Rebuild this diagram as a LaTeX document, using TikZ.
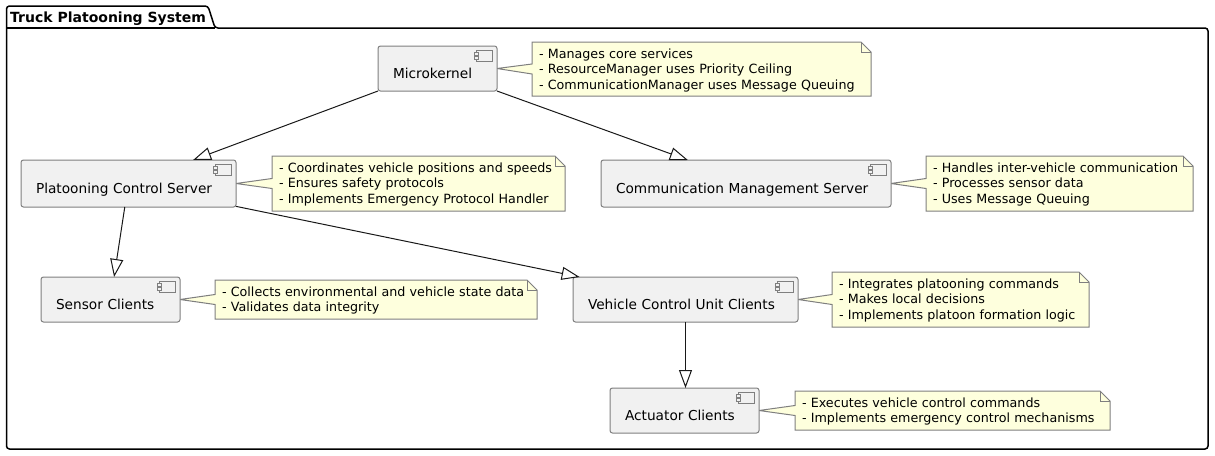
\documentclass[tikz,border=0pt]{standalone}
\usepackage{fontspec}
\setmainfont{DejaVu Sans}
\usepackage{xcolor}
\usetikzlibrary{arrows.meta,calc,backgrounds}
\definecolor{compfill}{HTML}{F1F1F1}
\definecolor{notefill}{HTML}{FEFFDD}
\definecolor{edgegray}{HTML}{7F7F7F}
\definecolor{linedark}{HTML}{181818}
\tikzset{
  comp/.style={draw=edgegray,fill=compfill,line width=1pt,rounded corners=2.5pt,
    inner xsep=15pt,inner ysep=0pt,outer sep=0pt,align=left,
    text height=32.5pt,text depth=12.5pt,font=\fontsize{13.7}{16}\selectfont},
  note/.style={inner xsep=7pt,inner ysep=0pt,outer sep=0pt,align=left,
    text height=16.5pt,font=\fontsize{12.7}{15.3}\selectfont},
  notepath/.style={draw=edgegray,fill=notefill,line width=1pt},
  link/.style={draw=linedark,line width=1pt,-{Triangle[length=18pt,width=13pt,fill=white]}},
  icon/.style={draw=edgegray,fill=compfill,line width=1pt}
}
\begin{document}
\begin{tikzpicture}[x=1pt,y=-1pt]
\useasboundingbox (0,0) rectangle (1215,455);
\draw[draw=black,line width=1.5pt,rounded corners=3pt]
  (6.5,28) -- (6.5,6) -- (208,6) -- (215,28) -- (1208,28) -- (1208,449) -- (6.5,449) -- cycle;
\draw[draw=black,line width=1.5pt] (6.5,28) -- (215,28);
\node[anchor=base west,inner sep=0pt,font=\fontsize{14}{16}\selectfont\bfseries] (title) at (10,22) {Truck Platooning System};

\node[comp,text width=89pt,minimum height=45pt] (micro) at (437.5,68.5) {Microkernel};
\node[comp,text width=185pt,minimum height=47pt] (plat) at (128.5,183.5) {Platooning Control Server};
\node[comp,text width=260pt,minimum height=47pt] (comm) at (746,183.5) {Communication Management Server};
\node[comp,text width=109pt,minimum height=45pt] (sensor) at (110.5,299.5) {Sensor Clients};
\node[comp,text width=195pt,minimum height=45pt] (vcu) at (685.5,299.5) {Vehicle Control Unit Clients};
\node[comp,text width=119pt,minimum height=45pt] (act) at (684.5,410.5) {Actuator Clients};

\node[note,text width=325pt,text depth=37.5pt] (nmicro) at (701.5,69) {- Manages core services\\- ResourceManager uses Priority Ceiling\\- CommunicationManager uses Message Queuing};
\node[note,text width=279pt,text depth=38.5pt] (nplat) at (418.5,183.5) {- Coordinates vehicle positions and speeds\\- Ensures safety protocols\\- Implements Emergency Protocol Handler};
\node[note,text width=253pt,text depth=38.5pt] (ncomm) at (1059.5,183.5) {- Handles inter-vehicle communication\\- Processes sensor data\\- Uses Message Queuing};
\node[note,text width=308pt,text depth=22.5pt] (nsensor) at (376,299.5) {- Collects environmental and vehicle state data\\- Validates data integrity};
\node[note,text width=243pt,text depth=38.5pt] (nvcu) at (960.5,299.5) {- Integrates platooning commands\\- Makes local decisions\\- Implements platoon formation logic};
\node[note,text width=301pt,text depth=22.5pt] (nact) at (952.5,410.5) {- Executes vehicle control commands\\- Implements emergency control mechanisms};

\begin{scope}[on background layer]
\foreach \n/\c in {nmicro/micro,nplat/plat,ncomm/comm,nsensor/sensor,nvcu/vcu,nact/act} {
  \draw[notepath] (\n.north west) -- ($(\n.north east)+(-10,0)$) -- ($(\n.north east)+(0,10)$)
    -- (\n.south east) -- (\n.south west) -- ($(\n.west)+(0,5)$) -- (\c.east) -- ($(\n.west)+(0,-5)$) -- cycle;
  \draw[draw=edgegray,line width=1pt] ($(\n.north east)+(-10,0)$) -- ($(\n.north east)+(-10,10)$) -- ($(\n.north east)+(0,10)$);
}
\end{scope}

\foreach \c in {micro,plat,comm,sensor,vcu,act} {
  \draw[icon] ($(\c.north east)+(-20.5,4.5)$) rectangle ($(\c.north east)+(-4.5,15)$);
  \draw[icon] ($(\c.north east)+(-22.5,6.5)$) rectangle ($(\c.north east)+(-18.5,9)$);
  \draw[icon] ($(\c.north east)+(-22.5,10.5)$) rectangle ($(\c.north east)+(-18.5,13)$);
}

\draw[link] (micro.south west) -- (plat.20.9);
\draw[link] (micro.south east) -- (comm.158.9);
\draw[link] (plat.261.5) -- (sensor.81.2);
\draw[link] (plat.-12.56) -- (vcu.168.5);
\draw[link] (vcu.south) -- (vcu.south |- act.north);
\end{tikzpicture}
\end{document}
